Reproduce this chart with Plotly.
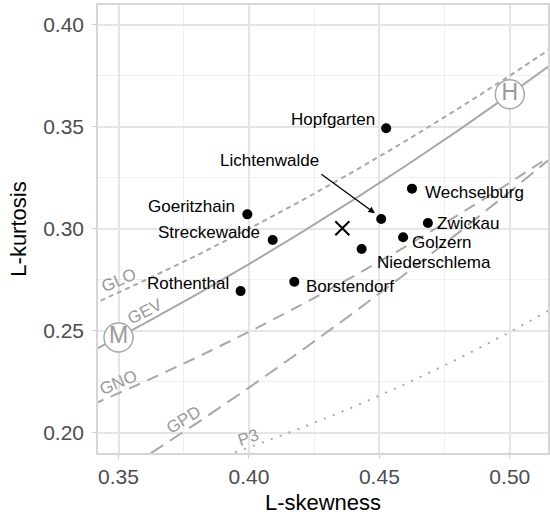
import plotly.graph_objects as go

# ---- data ----
sites = ["Hopfgarten", "Lichtenwalde", "Wechselburg", "Zwickau", "Golzern",
         "Niederschlema", "Borstendorf", "Goeritzhain", "Streckewalde", "Rothenthal"]
l_skew = [0.4526, 0.4507, 0.4625, 0.4686, 0.4591, 0.4432, 0.4174, 0.3994, 0.4091, 0.3968]
l_kurt = [0.3493, 0.3048, 0.3197, 0.3029, 0.2959, 0.2901, 0.2741, 0.3071, 0.2945, 0.2695]

mean_skew = [0.4358]
mean_kurt = [0.3003]

curve_tau3 = [0.34, 0.36, 0.38, 0.40, 0.42, 0.44, 0.46, 0.48, 0.50, 0.52]
glo_tau4 = [0.2630, 0.2747, 0.2870, 0.3000, 0.3137, 0.3280, 0.3430, 0.3587, 0.3750, 0.3920]
gev_tau4 = [0.2401, 0.2537, 0.2679, 0.2827, 0.2981, 0.3142, 0.3308, 0.3480, 0.3659, 0.3843]
gno_tau4 = [0.2139, 0.2251, 0.2370, 0.2495, 0.2627, 0.2767, 0.2913, 0.3066, 0.3226, 0.3393]
gpd_tau4 = [0.1719, 0.1881, 0.2048, 0.2222, 0.2402, 0.2588, 0.2780, 0.2978, 0.3182, 0.3391]
p3_tau3 = [0.36, 0.38, 0.40, 0.42, 0.44, 0.46, 0.48, 0.50, 0.52]
p3_tau4 = [0.1763, 0.1842, 0.1929, 0.2024, 0.2127, 0.2240, 0.2362, 0.2494, 0.2636]

special_names = ["M", "H"]
special_skew = [0.35, 0.50]
special_kurt = [0.2468, 0.3659]

x_ticks = [0.35, 0.40, 0.45, 0.50]
x_tick_labels = ["0.35", "0.40", "0.45", "0.50"]
y_ticks = [0.20, 0.25, 0.30, 0.35, 0.40]
y_tick_labels = ["0.20", "0.25", "0.30", "0.35", "0.40"]

# ---- label placement (layout, not data) ----
label_x = [0.4490, 0.4079, 0.4666, 0.4712, 0.4619, 0.4483, 0.4212, 0.3955, 0.4049, 0.3932]
label_y = [0.3534, 0.3333, 0.3177, 0.3027, 0.2934, 0.2834, 0.2716, 0.3109, 0.2983, 0.2733]
label_anchor = ["right", "center", "left", "left", "left", "left", "left", "right", "right", "right"]

curve_names = ["GLO", "GEV", "GNO", "GPD", "P3"]
curve_lab_x = [0.3500, 0.3602, 0.3500, 0.3751, 0.4000]
curve_lab_y = [0.2746, 0.2594, 0.2247, 0.2067, 0.1977]
curve_lab_angle = [-23, -27, -23, -32, -19]

GRAY = "#a8a8a8"
LABGRAY = "#9a9a9a"
FONT = "Liberation Sans, Arial, sans-serif"

fig = go.Figure()

curve_specs = [
    (curve_tau3, glo_tau4, "5px,4px"),
    (curve_tau3, gev_tau4, "solid"),
    (curve_tau3, gno_tau4, "12px,8px"),
    (curve_tau3, gpd_tau4, "15px,8px"),
    (p3_tau3, p3_tau4, "2px,7.5px"),
]
for cx, cy, dash in curve_specs:
    fig.add_trace(go.Scatter(x=cx, y=cy, mode="lines",
                             line=dict(color=GRAY, width=2, dash=dash),
                             hoverinfo="skip", showlegend=False))

# M / H circles
fig.add_trace(go.Scatter(x=special_skew, y=special_kurt, mode="markers+text",
                         marker=dict(size=29, color="white", line=dict(color=GRAY, width=1.5)),
                         text=special_names, textposition="middle center",
                         textfont=dict(family=FONT, size=23, color=LABGRAY),
                         showlegend=False, hoverinfo="skip"))

# sites
fig.add_trace(go.Scatter(x=l_skew, y=l_kurt, mode="markers",
                         marker=dict(size=10, color="black"),
                         text=sites, showlegend=False))

# mean
fig.add_trace(go.Scatter(x=mean_skew, y=mean_kurt, mode="markers",
                         marker=dict(symbol="x-thin", size=14, line=dict(color="black", width=2)),
                         showlegend=False))

annotations = []
for name, lx, ly, anc in zip(sites, label_x, label_y, label_anchor):
    annotations.append(dict(x=lx, y=ly, xref="x", yref="y", text=name, showarrow=False,
                            xanchor=anc, yanchor="middle",
                            font=dict(family=FONT, size=17, color="black")))
for name, lx, ly, ang in zip(curve_names, curve_lab_x, curve_lab_y, curve_lab_angle):
    annotations.append(dict(x=lx, y=ly, xref="x", yref="y", text=name, showarrow=False,
                            textangle=ang, xanchor="center", yanchor="middle",
                            font=dict(family=FONT, size=17, color=LABGRAY)))
# arrow to Lichtenwalde
annotations.append(dict(x=0.4483, y=0.3076, ax=0.4272, ay=0.3273, xref="x", yref="y",
                        axref="x", ayref="y", text="", showarrow=True,
                        arrowhead=2, arrowsize=1, arrowwidth=1.3, arrowcolor="black"))

fig.update_layout(
    width=550, height=519,
    margin=dict(l=98, r=0, t=5, b=66, pad=0),
    paper_bgcolor="white", plot_bgcolor="white",
    font=dict(family=FONT),
    annotations=annotations,
    showlegend=False,
)
fig.update_xaxes(
    range=[0.34214, 0.51464],
    tickvals=x_ticks, ticktext=x_tick_labels,
    tickfont=dict(size=21, color="#4d4d4d", family=FONT),
    showgrid=True, gridcolor="#e5e5e5", gridwidth=1.6,
    minor=dict(dtick=0.025, tick0=0.325, showgrid=True, gridcolor="#efefef", gridwidth=1),
    ticks="outside", ticklen=4, tickcolor="#d0d0d0",
    showline=True, linecolor="#d6d6d6", linewidth=1.5, mirror=True,
    zeroline=False,
    title=dict(text="L-skewness", font=dict(size=22, color="black", family=FONT), standoff=8),
)
fig.update_yaxes(
    range=[0.19019, 0.40966],
    tickvals=y_ticks, ticktext=y_tick_labels,
    tickfont=dict(size=21, color="#4d4d4d", family=FONT),
    showgrid=True, gridcolor="#e5e5e5", gridwidth=1.6,
    minor=dict(dtick=0.025, tick0=0.175, showgrid=True, gridcolor="#efefef", gridwidth=1),
    ticks="outside", ticklen=4, tickcolor="#d0d0d0",
    ticklabelstandoff=4,
    showline=True, linecolor="#d6d6d6", linewidth=1.5, mirror=True,
    zeroline=False,
    title=dict(text="L-kurtosis", font=dict(size=22, color="black", family=FONT), standoff=10),
)

fig.write_html("out.html")
